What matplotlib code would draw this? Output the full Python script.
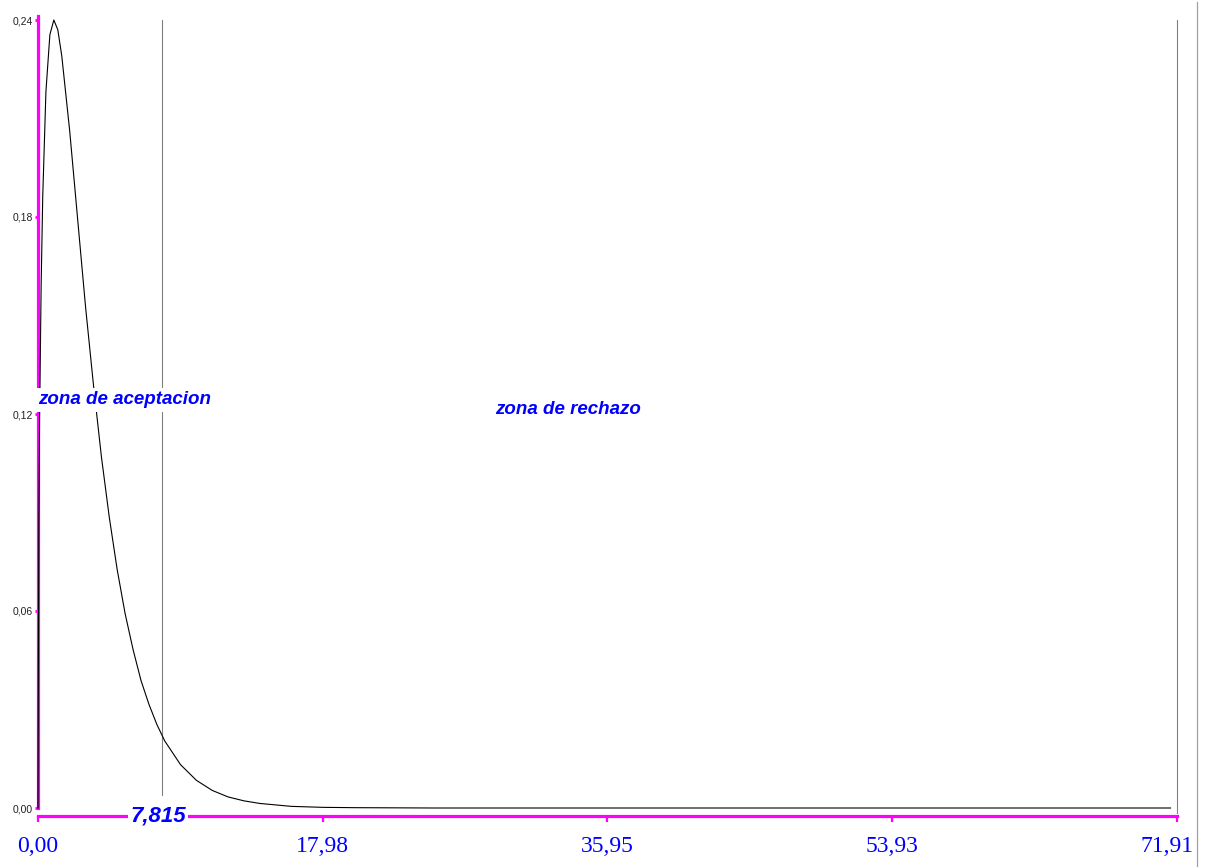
import matplotlib
matplotlib.use('Agg')
import matplotlib.pyplot as plt
from matplotlib.lines import Line2D
from matplotlib.transforms import ScaledTranslation

# curve (chi-square, 3 d.f.)
chi_x = [0.0, 0.05, 0.1, 0.2, 0.3, 0.5, 0.75, 1.0, 1.25, 1.5, 2.0, 2.5, 3.0, 3.5, 4.0, 4.5,
         5.0, 5.5, 6.0, 6.5, 7.0, 7.5, 8.0, 9.0, 10.0, 11.0, 12.0, 13.0, 14.0, 16.0, 18.0,
         20.0, 25.0, 30.0, 71.5]
chi_y = [0.0, 0.087, 0.120, 0.161, 0.188, 0.220, 0.2375, 0.242, 0.239, 0.231, 0.208, 0.181,
         0.154, 0.130, 0.108, 0.0893, 0.0732, 0.0597, 0.0487, 0.0392, 0.0319, 0.0257, 0.0206,
         0.0133, 0.0085, 0.0054, 0.0034, 0.0022, 0.0014, 0.0005, 0.0002, 0.0001, 0.0, 0.0, 0.0]

critical = 7.815
x_max = 71.91
y_max = 0.242
x_ticks = [0.0, 17.98, 35.95, 53.93, 71.91]
x_labels = ['0,00', '17,98', '35,95', '53,93', '71,91']
y_ticks = [0.0, 0.0605, 0.121, 0.1815, 0.242]
y_labels = ['0,00', '0,06', '0,12', '0,18', '0,24']
label_accept = 'zona de aceptacion'
label_reject = 'zona de rechazo'
label_crit = '7,815'

W, H = 1213, 867
fig = plt.figure(figsize=(W / 100, H / 100), dpi=100)
k = 788 / y_max            # pixels per unit on y
y_lo, y_hi = -8 / k, (808 - 4.2) / k
ax = fig.add_axes([38 / W, (H - 816) / H, 1139 / W, (816 - 4.2) / H])
ax.set_xlim(0, x_max)
ax.set_ylim(y_lo, y_hi)

narrow = ['Liberation Sans Narrow', 'Liberation Sans', 'DejaVu Sans']
magenta = '#ff00ff'

for s in ['top', 'right']:
    ax.spines[s].set_visible(False)
ax.spines['left'].set_color(magenta)
ax.spines['left'].set_linewidth(2.3)
ax.spines['left'].set_bounds(0, 792 / k)
ax.spines['bottom'].set_color(magenta)
ax.spines['bottom'].set_linewidth(2.3)
ax.spines['bottom'].set_bounds(0, x_max)

ax.set_yticks(y_ticks)
ax.set_yticklabels(y_labels, family=narrow, fontsize=7.5, color='#222222')
ax.tick_params(axis='y', length=2.2, width=2, color=magenta, pad=1.5)

ax.set_xticks(x_ticks)
ax.set_xticklabels(x_labels, family=['Liberation Serif', 'DejaVu Serif'], fontsize=17, color='#0000ff')
ax.tick_params(axis='x', length=4.5, width=1.6, color=magenta, pad=10)
last = ax.get_xticklabels()[-1]
last.set_transform(last.get_transform() + ScaledTranslation(-7 / 72, 0, fig.dpi_scale_trans))

# density curve
ax.plot(chi_x, chi_y, color='black', lw=0.8, clip_on=False, zorder=3)

# vertical reference lines
ax.plot([critical, critical], [13 / k, y_max], color='#808080', lw=0.8, zorder=2)
ax.plot([x_max, x_max], [-5 / k, y_max], color='#808080', lw=0.8, clip_on=False, zorder=2)

# window edge on the right
fig.add_artist(Line2D([1197 / W, 1197 / W], [0, (H - 2) / H], transform=fig.transFigure,
                      color='#a0a0a0', lw=0.9))

ax.text(critical - 0.25, y_lo, label_crit, ha='center', va='center', color='#0000ff',
        family=narrow, fontsize=16, fontweight='bold', fontstyle='italic', zorder=5, clip_on=False,
        bbox=dict(facecolor='white', edgecolor='none', pad=1.5))
ax.text(0.0, 408 / k, label_accept, ha='left', va='center', color='#0000ff',
        family=narrow, fontsize=13.5, fontweight='bold', fontstyle='italic', zorder=5, clip_on=False,
        bbox=dict(facecolor='white', edgecolor='none', pad=2.5))
ax.text(28.85, 398 / k, label_reject, ha='left', va='center', color='#0000ff',
        family=narrow, fontsize=13.5, fontweight='bold', fontstyle='italic', zorder=5,
        bbox=dict(facecolor='white', edgecolor='none', pad=2.5))

fig.savefig('out.png', dpi=100)
